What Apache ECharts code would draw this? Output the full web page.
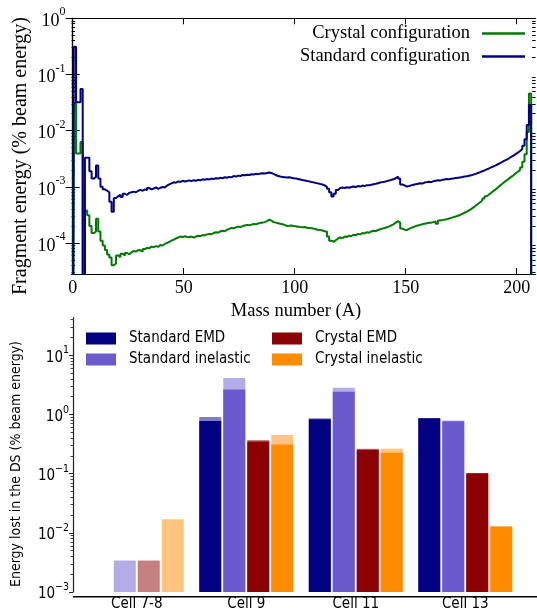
<!DOCTYPE html>
<html>
<head>
<meta charset="utf-8">
<title>Fragment energy and DS losses</title>
<script src="https://cdn.jsdelivr.net/npm/echarts@6/dist/echarts.min.js"></script>
<style>
html, body { margin: 0; padding: 0; background: #fff; }
#chart { width: 537px; height: 612px; }
</style>
</head>
<body>
<div id="chart"></div>
<script>
// ---- top panel: fragment energy per mass number A = 0 ... 207 (% beam energy, 0 = nothing) ----
const crystalFragment = [
  0, 0.031, 0.0039, 0.0039, 0.0063, 0, 0.00038, 0.00031, 0.00020, 0.00015,
  0.00016, 0.00027, 0.00016, 0.00011, 0.000090, 0.000075, 0.000062, 0.000055, 0.000040, 0.000043,
  0.000060, 0.000056, 0.000064, 0.000060, 0.000066, 0.000063, 0.000068, 0.000072, 0.000070, 0.000075,
  0.000074, 0.000070, 0.000078, 0.000082, 0.000080, 0.000086, 0.000084, 0.000088, 0.000085, 0.000092,
  0.000090, 0.000096, 0.000100, 0.000104, 0.000110, 0.000115, 0.000120, 0.000125, 0.000130, 0.000128,
  0.000132, 0.000128, 0.000126, 0.000130, 0.000125, 0.000130, 0.000134, 0.000132, 0.000138, 0.000136,
  0.000142, 0.000145, 0.000143, 0.000150, 0.000155, 0.000152, 0.000160, 0.000165, 0.000162, 0.000172,
  0.000178, 0.000185, 0.000182, 0.000190, 0.000195, 0.000192, 0.000200, 0.000205, 0.000210, 0.000206,
  0.000212, 0.000218, 0.000215, 0.000222, 0.000228, 0.000230, 0.000235, 0.000245, 0.000260, 0.000250,
  0.000235, 0.000230, 0.000225, 0.000220, 0.000215, 0.000210, 0.000200, 0.000202, 0.000205, 0.000200,
  0.000198, 0.000195, 0.000192, 0.000190, 0.000192, 0.000186, 0.000184, 0.000182, 0.000180, 0.000176,
  0.000172, 0.000170, 0.000166, 0.000162, 0.000160, 0.000130, 0.000110, 0.000105, 0.000112, 0.000120,
  0.000125, 0.000122, 0.000130, 0.000128, 0.000135, 0.000132, 0.000140, 0.000138, 0.000145, 0.000142,
  0.000150, 0.000148, 0.000155, 0.000152, 0.000160, 0.000165, 0.000162, 0.000170, 0.000175, 0.000180,
  0.000185, 0.000190, 0.000195, 0.000205, 0.000215, 0.000230, 0.000245, 0.000230, 0.000180, 0.000172,
  0.000170, 0.000178, 0.000185, 0.000192, 0.000200, 0.000205, 0.000210, 0.000215, 0.000220, 0.000225,
  0.000228, 0.000230, 0.000235, 0.000240, 0.000220, 0.000250, 0.000255, 0.000260, 0.000265, 0.000272,
  0.000280, 0.000288, 0.000295, 0.000305, 0.000315, 0.000330, 0.000345, 0.000360, 0.000380, 0.000400,
  0.000430, 0.000460, 0.000495, 0.000530, 0.000570, 0.000620, 0.000680, 0.000730, 0.000780, 0.000840,
  0.000900, 0.000970, 0.00105, 0.00113, 0.00122, 0.00130, 0.00140, 0.00150, 0.00160, 0.00172,
  0.00185, 0.00200, 0.00220, 0.00280, 0.00380, 0.0095, 0.046, 0
];
const standardFragment = [
  0, 0.31, 0.032, 0.032, 0.055, 0, 0.0033, 0.0033, 0.0019, 0.0014,
  0.0015, 0.0024, 0.0014, 0.0010, 0.00090, 0.00085, 0.00080, 0.00054, 0.00036, 0.00063,
  0.00068, 0.00072, 0.00066, 0.00075, 0.00072, 0.00078, 0.00080, 0.00082, 0.00080, 0.00085,
  0.00088, 0.00085, 0.00090, 0.00087, 0.00095, 0.00090, 0.00093, 0.00098, 0.00092, 0.00096,
  0.00099, 0.00097, 0.00105, 0.00110, 0.00115, 0.00120, 0.00118, 0.00125, 0.00122, 0.00128,
  0.00124, 0.00127, 0.00130, 0.00126, 0.00131, 0.00128, 0.00133, 0.00130, 0.00136, 0.00133,
  0.00138, 0.00135, 0.00140, 0.00138, 0.00142, 0.00140, 0.00145, 0.00142, 0.00148, 0.00145,
  0.00150, 0.00147, 0.00155, 0.00152, 0.00158, 0.00155, 0.00162, 0.00160, 0.00164, 0.00162,
  0.00167, 0.00165, 0.00170, 0.00168, 0.00172, 0.00174, 0.00172, 0.00176, 0.00180, 0.00176,
  0.00170, 0.00162, 0.00155, 0.00152, 0.00150, 0.00148, 0.00146, 0.00148, 0.00145, 0.00142,
  0.00140, 0.00138, 0.00135, 0.00132, 0.00130, 0.00127, 0.00125, 0.00122, 0.00120, 0.00117,
  0.00115, 0.00112, 0.00110, 0.00106, 0.00100, 0.00092, 0.00080, 0.00067, 0.00075, 0.00088,
  0.00095, 0.00097, 0.00095, 0.00098, 0.00096, 0.00099, 0.00101, 0.00099, 0.00103, 0.00101,
  0.00105, 0.00103, 0.00107, 0.00106, 0.00109, 0.00111, 0.00113, 0.00116, 0.00119, 0.00121,
  0.00123, 0.00126, 0.00129, 0.00133, 0.00136, 0.00142, 0.00152, 0.00140, 0.00110, 0.00106,
  0.00101, 0.00103, 0.00106, 0.00109, 0.00111, 0.00113, 0.00116, 0.00114, 0.00119, 0.00121,
  0.00123, 0.00121, 0.00126, 0.00128, 0.00131, 0.00129, 0.00133, 0.00135, 0.00137, 0.00136,
  0.00139, 0.00141, 0.00143, 0.00145, 0.00147, 0.00149, 0.00152, 0.00154, 0.00157, 0.00160,
  0.00165, 0.00170, 0.00176, 0.00182, 0.00189, 0.00196, 0.00204, 0.00212, 0.00221, 0.00231,
  0.00241, 0.00252, 0.00264, 0.00277, 0.00291, 0.00306, 0.00322, 0.00340, 0.00360, 0.00382,
  0.00406, 0.00434, 0.00470, 0.00540, 0.00700, 0.0126, 0.0285, 0
];
const massTicks = [0, 50, 100, 150, 200];
const fragDecades = [1e-4, 1e-3, 1e-2, 1e-1, 1];

// ---- bottom panel: energy lost in the DS (% beam energy) ----
const cells = ['Cell 7-8', 'Cell 9', 'Cell 11', 'Cell 13'];
// solid part of each bar
const standardEmd = [null, 0.776, 0.83, 0.86];
const standardInelastic = [null, 2.64, 2.42, 0.767];
const crystalEmd = [null, 0.348, 0.254, 0.101];
const crystalInelastic = [null, 0.31, 0.226, 0.0128];
// pale top of each bar (full height)
const standardEmdTop = [null, 0.905, 0.86, 0.86];
const standardInelasticTop = [0.0034, 4.13, 2.82, 0.79];
const crystalEmdTop = [0.0034, 0.371, 0.263, 0.101];
const crystalInelasticTop = [0.0169, 0.45, 0.263, 0.0128];
const dsDecades = [1e-3, 1e-2, 1e-1, 1, 10];

const serif = 'Liberation Serif';
const sans = "'DejaVu Sans Condensed', 'Liberation Sans Narrow', 'Liberation Sans'";

// zero bins are pushed below the axis so the step drops out of the frame
const floorValue = 1e-9;
function toPairs(arr) {
  return arr.map((v, i) => [i, v > 0 ? v : floorValue]);
}

function minorTicks(lo, hi) {
  const out = [];
  for (let d = -6; d <= 2; d++) {
    for (let k = 2; k <= 9; k++) {
      const v = k * Math.pow(10, d);
      if (v > lo && v < hi) out.push(v);
    }
  }
  return out;
}

function powLabel(v, minus) {
  const e = Math.round(Math.log10(v));
  const s = e < 0 ? minus + (-e) : String(e);
  return '{b|10}{s|' + s + '}';
}

const fragMin = 2.8e-5;
const dsMin = 1e-3;
const dsMax = 43;

const chart = echarts.init(document.getElementById('chart'));

const topY = {
  type: 'log', gridIndex: 0, min: fragMin, max: 1, logBase: 10,
  splitLine: { show: false }
};
const botY = {
  type: 'log', gridIndex: 1, min: dsMin, max: dsMax, logBase: 10, startValue: dsMin,
  splitLine: { show: false }
};
const blackLine = { show: true, lineStyle: { color: '#000', width: 1.2 } };
const barBase = { type: 'bar', yAxisIndex: 4, barWidth: 22, barGap: '9%' };

chart.setOption({
  animation: false,
  backgroundColor: '#fff',
  grid: [
    { left: 71.6, right: 1.4, top: 18.3, height: 255.7 },
    { left: 82, width: 438, top: 317.7, height: 279 }
  ],
  legend: [
    {
      orient: 'vertical', right: 7, top: 19, align: 'right',
      itemWidth: 43, itemHeight: 2.5, itemGap: 4,
      data: [
        { name: 'Crystal configuration', icon: 'rect' },
        { name: 'Standard configuration', icon: 'rect' }
      ],
      textStyle: { fontFamily: serif, fontSize: 18.5, color: '#000', padding: [0, 7, 0, 0] },
      selectedMode: false
    },
    {
      orient: 'vertical', left: 81, top: 326,
      itemWidth: 30, itemHeight: 12, itemGap: 6, icon: 'rect',
      data: ['Standard EMD', 'Standard inelastic'],
      textStyle: { fontFamily: sans, fontSize: 15, color: '#000', padding: [0, 0, 0, 8] },
      selectedMode: false
    },
    {
      orient: 'vertical', left: 267, top: 326,
      itemWidth: 30, itemHeight: 12, itemGap: 6, icon: 'rect',
      data: ['Crystal EMD', 'Crystal inelastic'],
      textStyle: { fontFamily: sans, fontSize: 15, color: '#000', padding: [0, 0, 0, 8] },
      selectedMode: false
    }
  ],
  xAxis: [
    {
      type: 'value', gridIndex: 0, min: -0.5, max: 208.5,
      axisLine: blackLine,
      axisTick: { inside: true, length: 6, customValues: massTicks, lineStyle: { color: '#000' } },
      axisLabel: { customValues: massTicks, fontFamily: serif, fontSize: 18, color: '#000', margin: 5 },
      splitLine: { show: false }
    },
    {
      type: 'value', gridIndex: 0, position: 'top', min: -0.5, max: 208.5,
      axisLine: blackLine,
      axisTick: { inside: true, length: 6, customValues: massTicks, lineStyle: { color: '#000' } },
      axisLabel: { show: false },
      splitLine: { show: false }
    },
    {
      type: 'category', gridIndex: 1, data: cells,
      axisLine: { show: false }, axisTick: { show: false },
      axisLabel: { fontFamily: sans, fontSize: 15, color: '#000', margin: 5 }
    },
    {
      type: 'category', gridIndex: 1, data: cells, show: false
    }
  ],
  yAxis: [
    Object.assign({}, topY, {
      axisLine: blackLine,
      axisTick: { inside: true, length: 7, customValues: fragDecades, lineStyle: { color: '#000' } },
      axisLabel: {
        customValues: fragDecades, margin: 6,
        formatter: v => powLabel(v, '-'),
        rich: {
          b: { fontFamily: serif, fontSize: 18, color: '#000', padding: [6, 0, 0, 0], verticalAlign: 'bottom' },
          s: { fontFamily: serif, fontSize: 12, color: '#000', verticalAlign: 'top' }
        }
      }
    }),
    Object.assign({}, topY, {
      position: 'right',
      axisLine: blackLine,
      axisTick: { inside: true, length: 7, customValues: fragDecades, lineStyle: { color: '#000' } },
      axisLabel: { show: false }
    }),
    Object.assign({}, topY, {
      position: 'left', axisLine: { show: false },
      axisTick: { inside: true, length: 3.5, customValues: minorTicks(fragMin, 1), lineStyle: { color: '#000' } },
      axisLabel: { show: false }
    }),
    Object.assign({}, topY, {
      position: 'right', axisLine: { show: false },
      axisTick: { inside: true, length: 3.5, customValues: minorTicks(fragMin, 1), lineStyle: { color: '#000' } },
      axisLabel: { show: false }
    }),
    Object.assign({}, botY, {
      position: 'left', offset: 9,
      axisLine: { show: true, lineStyle: { color: '#222', width: 1.2 } },
      axisTick: { show: true, length: 4, customValues: dsDecades, lineStyle: { color: '#222' } },
      axisLabel: {
        customValues: dsDecades, margin: 4,
        formatter: v => powLabel(v, '\u2212'),
        rich: {
          b: { fontFamily: sans, fontSize: 15, color: '#000', padding: [5, 0, 0, 0], verticalAlign: 'bottom' },
          s: { fontFamily: sans, fontSize: 10.5, color: '#000', verticalAlign: 'top' }
        }
      }
    }),
    Object.assign({}, botY, {
      position: 'left', offset: 9, axisLine: { show: false },
      axisTick: { show: true, length: 2.5, customValues: minorTicks(dsMin, dsMax), lineStyle: { color: '#444' } },
      axisLabel: { show: false }
    })
  ],
  graphic: [
    { type: 'line', shape: { x1: 73, y1: 596.7, x2: 537, y2: 596.7 }, style: { stroke: '#000', lineWidth: 1.4 }, silent: true },
    {
      type: 'text', x: 21, y: 156, rotation: Math.PI / 2, silent: true,
      style: { text: 'Fragment energy (% beam energy)', font: '20px "Liberation Serif"', fill: '#000', align: 'center', verticalAlign: 'middle' }
    },
    {
      type: 'text', x: 296, y: 311, silent: true,
      style: { text: 'Mass number (A)', font: '18.5px "Liberation Serif"', fill: '#000', align: 'center', verticalAlign: 'middle' }
    },
    {
      type: 'text', x: 16, y: 464, rotation: Math.PI / 2, silent: true,
      style: { text: 'Energy lost in the DS (% beam energy)', font: "14px 'DejaVu Sans Condensed', 'Liberation Sans Narrow', 'Liberation Sans'", fill: '#000', align: 'center', verticalAlign: 'middle' }
    }
  ],
  series: [
    {
      name: 'Crystal configuration', type: 'line', xAxisIndex: 0, yAxisIndex: 0,
      step: 'middle', showSymbol: false, data: toPairs(crystalFragment),
      color: '#007a00', lineStyle: { width: 2 }
    },
    {
      name: 'Standard configuration', type: 'line', xAxisIndex: 0, yAxisIndex: 0,
      step: 'middle', showSymbol: false, data: toPairs(standardFragment),
      color: '#000080', lineStyle: { width: 2 }
    },
    // pale tops
    Object.assign({ name: 'Standard EMD top', xAxisIndex: 2, data: standardEmdTop, itemStyle: { color: '#000080', opacity: 0.5 } }, barBase),
    Object.assign({ name: 'Standard inelastic top', xAxisIndex: 2, data: standardInelasticTop, itemStyle: { color: '#6a5acd', opacity: 0.5 } }, barBase),
    Object.assign({ name: 'Crystal EMD top', xAxisIndex: 2, data: crystalEmdTop, itemStyle: { color: '#8b0000', opacity: 0.5 } }, barBase),
    Object.assign({ name: 'Crystal inelastic top', xAxisIndex: 2, data: crystalInelasticTop, itemStyle: { color: '#ff8c00', opacity: 0.5 } }, barBase),
    // solid bars
    Object.assign({ name: 'Standard EMD', xAxisIndex: 3, data: standardEmd, itemStyle: { color: '#000080' } }, barBase),
    Object.assign({ name: 'Standard inelastic', xAxisIndex: 3, data: standardInelastic, itemStyle: { color: '#6a5acd' } }, barBase),
    Object.assign({ name: 'Crystal EMD', xAxisIndex: 3, data: crystalEmd, itemStyle: { color: '#8b0000' } }, barBase),
    Object.assign({ name: 'Crystal inelastic', xAxisIndex: 3, data: crystalInelastic, itemStyle: { color: '#ff8c00' } }, barBase)
  ]
});
</script>
</body>
</html>
